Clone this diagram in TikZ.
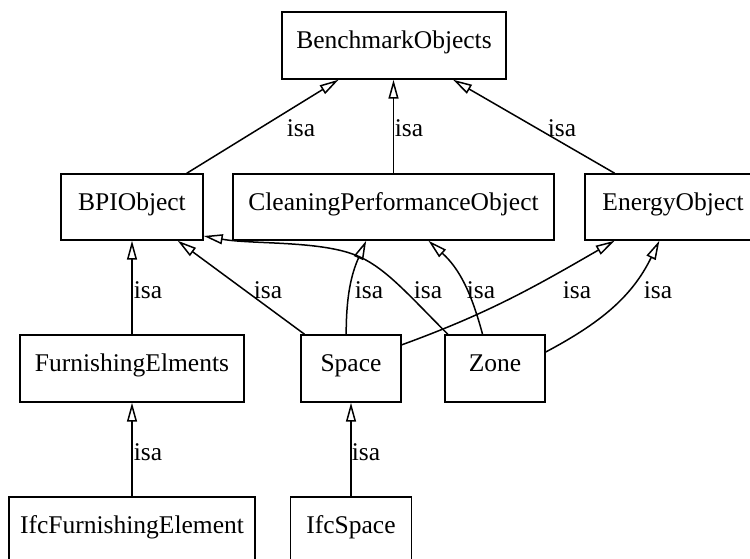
\documentclass[tikz,border=0pt]{standalone}
\usepackage{fontspec}
\setmainfont{Liberation Serif}
\usetikzlibrary{arrows.meta}
\begin{document}
\begin{tikzpicture}[x=1pt,y=1pt,
  cls/.style={draw=black, line width=1.5pt, rectangle, inner sep=0pt,
    minimum height=66pt, text height=0.68em, text depth=0.04em,
    font=\fontsize{25.5}{30}\selectfont},
  lbl/.style={inner sep=0pt, font=\fontsize{25.5}{30}\selectfont},
  isa/.style={draw=black, line width=1.5pt,
    -{Triangle[open,length=19pt,width=10pt,line width=1.5pt]}}]
\path[use as bounding box, clip] (0,0) rectangle (750,559);
\fill[white] (0,0) rectangle (750,559);
% nodes
\node[cls, minimum width=224pt, minimum height=67pt] (bench) at (394,513.5) {BenchmarkObjects};
\node[cls, minimum width=142pt] (bpi) at (132,352) {BPIObject};
\node[cls, minimum width=321pt] (clean) at (393.5,352) {CleaningPerformanceObject};
\node[cls, minimum width=176pt] (energy) at (673,352) {EnergyObject};
\node[cls, minimum width=224pt, minimum height=67pt] (furn) at (132,190.5) {FurnishingElments};
\node[cls, minimum width=100pt, minimum height=67pt] (space) at (351,190.5) {Space};
\node[cls, minimum width=100pt, minimum height=67pt] (zone) at (495,190.5) {Zone};
\node[cls, minimum width=246pt] (ifcf) at (132,29) {IfcFurnishingElement};
\node[cls, minimum width=121pt] (ifcs) at (351,29) {IfcSpace};
% edges
\draw[isa] (bpi) -- (bench);
\draw[isa] (clean.north) -- (clean.north |- bench.south);
\draw[isa] (energy) -- (bench);
\draw[isa] (furn) -- (bpi);
\draw[isa] (space) -- (bpi);
\draw[isa] (space.98) to[out=90,in=246] (clean.231);
\draw[isa] (zone.144) .. controls +(135:55) and +(-25:30) .. (360,302)
   .. controls +(155:40) and +(-10:50) .. (bpi.338);
\draw[isa] (zone.110) to[out=105,in=-42] (clean.316);
\draw[isa] (space.25) to[out=20,in=210] (energy.210);
\draw[isa] (zone.18) to[out=28,in=244] (energy.248);
\draw[isa] (ifcf) -- (furn);
\draw[isa] (ifcs) -- (space);
% labels
\node[lbl] (l1) at (301,431) {isa};
\node[lbl] (l2) at (409,431) {isa};
\node[lbl] (l3) at (562,431) {isa};
\node[lbl] (l4) at (148,269) {isa};
\node[lbl] (l5) at (268,269) {isa};
\node[lbl] (l6) at (369,269) {isa};
\node[lbl] (l7) at (428,269) {isa};
\node[lbl] (l8) at (481,269) {isa};
\node[lbl] (l9) at (577,269) {isa};
\node[lbl] (l10) at (658,269) {isa};
\node[lbl] (l11) at (148,107) {isa};
\node[lbl] (l12) at (366,107) {isa};
\end{tikzpicture}
\end{document}
